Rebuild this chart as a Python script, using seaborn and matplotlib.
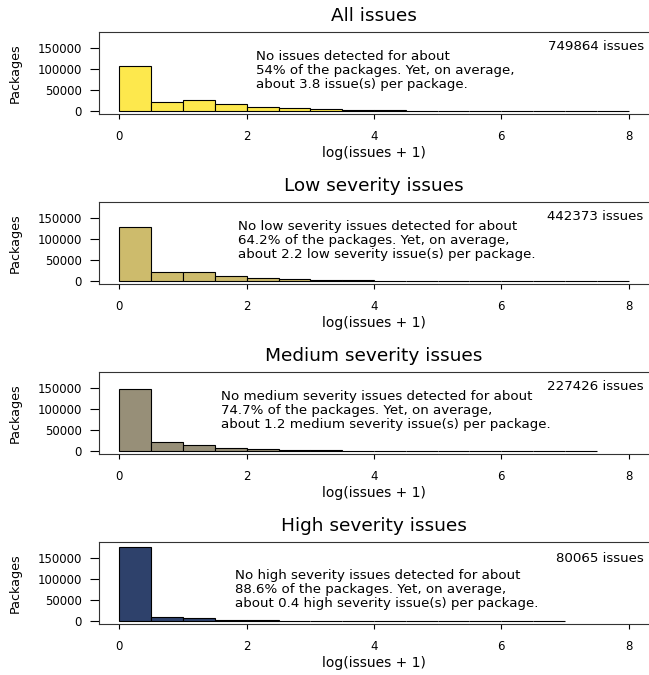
import numpy as np
import pandas as pd
import matplotlib
matplotlib.use("Agg")
import matplotlib.pyplot as plt
import seaborn as sns

# R-like base graphics look
sns.set_theme(style="ticks")
plt.rcParams["font.family"] = ["DejaVu Sans"]
plt.rcParams.update({
    "text.color": "black",
    "axes.labelcolor": "black",
    "xtick.color": "black",
    "ytick.color": "black",
})

# Data (counts per 0.5-wide bin of log(issues + 1))
BIN_EDGES = [0.0, 0.5, 1.0, 1.5, 2.0, 2.5, 3.0, 3.5, 4.0,
             4.5, 5.0, 5.5, 6.0, 6.5, 7.0, 7.5, 8.0]

all_counts = [107000, 22000, 26000, 16600, 10000, 6400, 4000, 2500,
              1500, 950, 600, 380, 220, 120, 5, 2]
low_counts = [127000, 20600, 22000, 11800, 6400, 3500, 2000, 1200,
              700, 400, 200, 100, 40, 3, 2, 1]
medium_counts = [148000, 20600, 14200, 7000, 4000, 2000, 1200, 700,
                 400, 200, 100, 50, 3, 2, 1]
high_counts = [175500, 10200, 6400, 3000, 1500, 800, 400, 200,
               100, 50, 25, 10, 5, 2]

titles = ["All issues", "Low severity issues",
          "Medium severity issues", "High severity issues"]
totals = ["749864 issues", "442373 issues", "227426 issues", "80065 issues"]
notes = [
    "No issues detected for about\n54% of the packages. Yet, on average,\n"
    "about 3.8 issue(s) per package.",
    "No low severity issues detected for about\n64.2% of the packages. Yet, on average,\n"
    "about 2.2 low severity issue(s) per package.",
    "No medium severity issues detected for about\n74.7% of the packages. Yet, on average,\n"
    "about 1.2 medium severity issue(s) per package.",
    "No high severity issues detected for about\n88.6% of the packages. Yet, on average,\n"
    "about 0.4 high severity issue(s) per package.",
]
colors = ["#FDE84D", "#CDBB6C", "#978F78", "#2E416B"]

panels = [all_counts, low_counts, medium_counts, high_counts]

# layout (pixels of a 649x675 canvas)
W, H = 649, 675
note_x = [2.145, 1.86, 1.60, 1.81]
note_y = [96000, 96000, 95500, 74400]
total_y = [152000, 152000, 152000, 147000]

fig = plt.figure(figsize=(W / 100, H / 100), dpi=100)

for i, counts in enumerate(panels):
    top_px = 32 + 170 * i
    bottom_px = 114 + 170 * i
    ax = fig.add_axes([99 / W, 1 - bottom_px / H, 550 / W, (bottom_px - top_px) / H])

    edges = BIN_EDGES[:len(counts) + 1]
    df = pd.DataFrame({
        "x": [(a + b) / 2 for a, b in zip(edges[:-1], edges[1:])],
        "n": counts,
    })
    sns.histplot(data=df, x="x", weights="n", bins=edges, color=colors[i],
                 edgecolor="black", linewidth=0.8, alpha=1, ax=ax)

    ax.set_xlim(-0.32, 8.32)
    ax.set_ylim(-7200, 187200)
    ax.set_xticks([0, 2, 4, 6, 8])
    ax.set_xticklabels(["0", "2", "4", "6", "8"])
    ax.set_yticks([0, 50000, 100000, 150000])
    ax.set_yticklabels(["0", "50000", "100000", "150000"])
    ax.tick_params(axis="x", direction="out", length=3.8, width=0.8,
                   pad=8, labelsize=8.5, colors="black")
    ax.tick_params(axis="y", direction="out", length=6.5, width=0.8,
                   pad=6, labelsize=8.5, colors="black")

    for side in ["left", "top", "bottom"]:
        ax.spines[side].set_linewidth(0.8)
        ax.spines[side].set_color("#333333")
    ax.spines["right"].set_visible(False)

    ax.set_xlabel("log(issues + 1)", fontsize=10)
    ax.xaxis.set_label_coords(0.5, -39 / 82)
    ax.xaxis.label.set_va("center")
    ax.set_ylabel("Packages", fontsize=9.2)
    ax.yaxis.set_label_coords(-83.7 / 550, 0.5)
    ax.yaxis.label.set_va("center")

    ax.set_title(titles[i], fontsize=13.3, y=1 + 16 / 82, va="center", pad=0)

    ax.text(note_x[i], note_y[i], notes[i], ha="left", va="center",
            fontsize=9.6, linespacing=1.1)
    ax.text(8.237, total_y[i], totals[i], ha="right", va="center", fontsize=9.6)

fig.savefig("out.png", dpi=100)
